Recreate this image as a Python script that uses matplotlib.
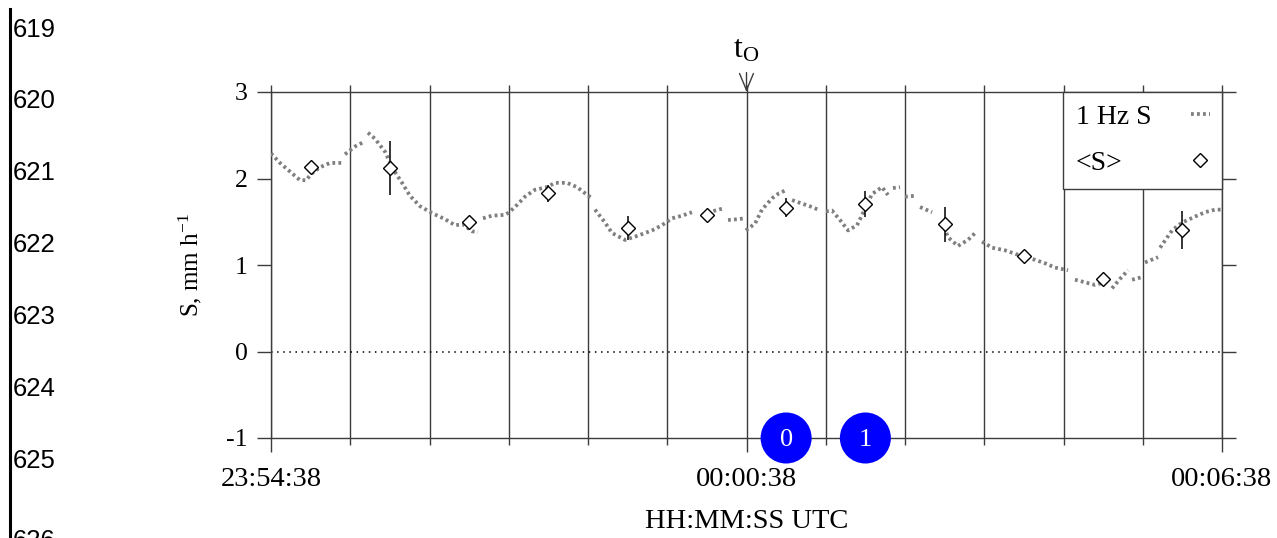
import numpy as np
import matplotlib
matplotlib.use("Agg")
import matplotlib.pyplot as plt
from matplotlib.lines import Line2D

nan = np.nan

# ---- data (seconds since 23:54:38) ----
hz_t = [0, 6.8, 14.4, 22.0, 26.5, 31.0, 37.1, 44.7, 53.8, 55,
        56.0, 63.6, 71.2, 72,
        73.4, 78.7, 86.3, 92.4, 99.2, 105.2, 112.8, 121.9, 131.7, 139.3, 145.4, 152.2, 156.7, 158,
        160.5, 167.3, 177.2, 179.4, 184.7, 192.3, 199.9, 209.0, 215.0, 224.1, 231.7, 237.7, 243.0, 244,
        245.3, 252.9, 258.2, 268.0, 277.9, 288.5, 296.0, 303.6, 311.2, 318.7, 322,
        326.3, 333.9, 343.7, 345,
        346.0, 353.6, 358.9, 359,
        359.5, 366.5, 371.7, 379.3, 384.6, 389.2, 391,
        394.5, 402.0, 409.6, 415.7, 418,
        420.2, 424.7, 430.8, 436.9, 443.7, 449.8, 455.0, 462.6, 467.1, 469,
        470.9, 476.2, 478,
        480.0, 487.6, 489,
        491.4, 500.5, 504,
        508.0, 512.6, 520.1, 527.7, 533.8, 536,
        538.3, 545.9, 555.7, 563.3, 570.9, 578.5, 586.0, 593.6, 603.4, 606,
        608.7, 616.3, 623.9, 631.4, 634,
        636.7, 642.8, 648.9, 650,
        651.9, 659.5, 660.5,
        661.7, 671.6, 672.3,
        673.1, 682.2, 689.7, 699.6, 707.1, 714.7, 720]
hz_s = [2.29, 2.18, 2.08, 1.98, 1.98, 2.06, 2.13, 2.18, 2.18, nan,
        2.28, 2.37, 2.43, nan,
        2.53, 2.46, 2.31, 2.11, 1.95, 1.80, 1.68, 1.60, 1.53, 1.46, 1.47, 1.39, 1.38, nan,
        1.54, 1.57, 1.58, 1.60, 1.67, 1.79, 1.87, 1.90, 1.95, 1.95, 1.90, 1.83, 1.77, nan,
        1.64, 1.49, 1.37, 1.29, 1.34, 1.40, 1.46, 1.54, 1.57, 1.61, nan,
        1.58, 1.62, 1.66, nan,
        1.52, 1.53, 1.54, nan,
        1.40, 1.48, 1.64, 1.77, 1.83, 1.86, nan,
        1.75, 1.71, 1.67, 1.63, nan,
        1.62, 1.63, 1.52, 1.40, 1.46, 1.65, 1.82, 1.90, 1.81, nan,
        1.89, 1.90, nan,
        1.79, 1.80, nan,
        1.67, 1.61, nan,
        1.50, 1.32, 1.22, 1.29, 1.38, nan,
        1.27, 1.20, 1.17, 1.13, 1.09, 1.06, 1.02, 0.97, 0.94, nan,
        0.83, 0.80, 0.77, 0.80, nan,
        0.73, 0.84, 0.94, nan,
        0.83, 0.86, nan,
        1.03, 1.09, nan,
        1.20, 1.40, 1.49, 1.56, 1.61, 1.64, 1.64]

mean_t = [30, 90, 150, 210, 270, 330, 390, 450, 510, 570, 630, 690]
mean_s = [2.13, 2.12, 1.50, 1.83, 1.43, 1.58, 1.66, 1.70, 1.47, 1.10, 0.84, 1.40]
mean_err = [0.07, 0.31, 0.06, 0.10, 0.14, 0.06, 0.11, 0.15, 0.20, 0.07, 0.05, 0.22]

major_ticks = [0, 360, 720]
major_labels = ["23:54:38", "00:00:38", "00:06:38"]
minor_ticks = list(range(0, 721, 60))
y_ticks = [-1, 0, 1, 2, 3]
t0_pos = 360
circle_t = [390, 450]
circle_labels = ["0", "1"]
line_numbers = ["619", "620", "621", "622", "623", "624", "625", "626"]
line_number_y = [30, 101.5, 173, 245, 317, 389, 460.5, 541]

# ---- style ----
plt.rcParams["font.family"] = ["Liberation Serif", "DejaVu Serif"]
plt.rcParams["mathtext.fontset"] = "custom"
plt.rcParams["mathtext.rm"] = "Liberation Serif"
plt.rcParams["mathtext.it"] = "Liberation Serif:italic"

W, H = 1277, 538
fig = plt.figure(figsize=(W / 100, H / 100), dpi=100)
x0, x1, ytop, ybot = 271, 1222, 92, 438
ax = fig.add_axes([x0 / W, 1 - ybot / H, (x1 - x0) / W, (ybot - ytop) / H])

gc = "#3c3c3c"
glw = 1.0

ax.plot(hz_t, hz_s, color="#7f7f7f", lw=2.7, linestyle=(0, (0.75, 0.85)),
        label="1 Hz S", zorder=3)
ax.errorbar(mean_t, mean_s, yerr=mean_err, fmt="none", ecolor="black",
            elinewidth=1.1, capsize=0, zorder=4)
ax.plot(mean_t, mean_s, linestyle="none", marker="D", ms=7, mfc="white",
        mec="black", mew=1.0, label="<S>", zorder=5)

ax.axhline(0, color="black", lw=1.1, linestyle=(0, (1, 3)), zorder=2)

ax.set_xlim(0, 720)
ax.set_ylim(-1, 3)
ax.set_xticks(major_ticks)
ax.set_xticklabels(major_labels, fontsize=20.5)
ax.set_xticks(minor_ticks, minor=True)
ax.tick_params(axis="x", which="major", direction="out", length=10, width=glw,
               color=gc, pad=11)
ax.tick_params(axis="x", which="minor", direction="out", length=5, width=glw,
               color=gc)
ax.set_yticks(y_ticks)
ax.set_yticklabels([str(v) for v in y_ticks], fontsize=18.5)
ax.tick_params(axis="y", which="major", direction="out", length=10, width=glw,
               color=gc, left=True, right=True, pad=7)
ax.grid(axis="x", which="both", color=gc, lw=glw, zorder=1)
for sp in ax.spines.values():
    sp.set_color(gc)
    sp.set_linewidth(glw)

sec = ax.secondary_xaxis("top")
sec.set_xticks(minor_ticks)
sec.set_xticklabels([])
sec.tick_params(axis="x", direction="out", length=5, width=glw, color=gc)
sec.spines["top"].set_visible(False)

ax.set_ylabel("S, mm h$^{\\mathregular{-1}}$", fontsize=18)
ax.yaxis.set_label_coords(-0.0705, 0.5)
ax.set_xlabel("HH:MM:SS UTC", fontsize=20.5)
ax.xaxis.set_label_coords(0.5, -0.205)

ax.annotate("t$_{\\mathregular{O}}$", xy=(t0_pos, 3), xytext=(0, 20),
            textcoords="offset points", ha="center", va="bottom", fontsize=23,
            annotation_clip=False,
            arrowprops=dict(arrowstyle="->,head_length=0.6,head_width=0.25",
                            color=gc, lw=1.0, shrinkA=4, shrinkB=0,
                            mutation_scale=20))

ax.scatter(circle_t, [-1] * len(circle_t), s=1350, c="#0000ff",
           edgecolors="none", zorder=10, clip_on=False)
for t, lab in zip(circle_t, circle_labels):
    ax.text(t, -1, lab, ha="center", va="center_baseline", color="white",
            fontsize=19, zorder=11, clip_on=False)

leg = ax.legend(loc="upper right", borderaxespad=0, markerfirst=False,
                prop=dict(family="Liberation Serif", size=20),
                handlelength=0.65, handletextpad=1.45, borderpad=0.45,
                labelspacing=0.75, fancybox=False, framealpha=1,
                edgecolor=gc)
leg.get_frame().set_linewidth(glw)
leg.set_zorder(6)

# left-align legend labels while keeping the handles in one right-hand column
fig.canvas.draw()
rend = fig.canvas.get_renderer()
widths = [t.get_window_extent(rend).width for t in leg.get_texts()]
maxw = max(widths)
column = leg._legend_handle_box.get_children()[0]
for item, w in zip(column.get_children(), widths):
    item.sep += (maxw - w) * 72.0 / fig.dpi

# page margin with line numbers
fig.add_artist(Line2D([9.5 / W, 9.5 / W], [0, 1 - 9 / H], color="black", lw=2.2))
for lab, yy in zip(line_numbers, line_number_y):
    fig.text(13 / W, 1 - yy / H, lab, ha="left", va="center",
             fontsize=18.5, family="Liberation Sans")

fig.savefig("out.png", dpi=100)
